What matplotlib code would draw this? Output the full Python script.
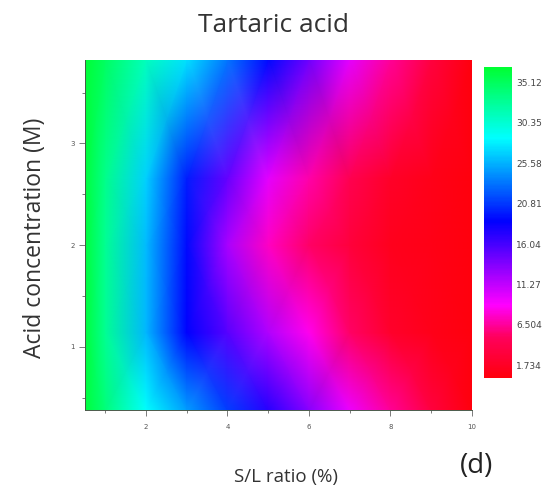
import numpy as np
import matplotlib
matplotlib.use("Agg")
import matplotlib.pyplot as plt
from matplotlib.colors import LinearSegmentedColormap

# S/L ratio (%) grid and acid concentration (M) grid
sl_ratio = [0.5, 1, 2, 3, 4, 5, 6, 7, 8, 9, 10]
acid_conc = [0.38, 1.14, 2.0, 2.66, 3.82]

# response values, one row per acid concentration
row_038 = [36.5, 33.9, 28.6, 24.8, 21.0, 17.2, 13.4, 9.6, 6.4, 3.3, 0.3]
row_114 = [36.5, 32.9, 25.8, 18.7, 15.3, 11.9, 8.5, 5.3, 2.1, 1.0, 0.3]
row_200 = [36.5, 32.9, 25.9, 19.0, 12.2, 7.5, 5.3, 3.1, 1.3, 0.8, 0.3]
row_266 = [36.5, 33.3, 26.8, 19.8, 14.7, 9.9, 6.8, 4.4, 2.0, 1.0, 0.3]
row_382 = [36.8, 34.9, 31.2, 27.4, 23.2, 19.1, 14.5, 9.9, 6.4, 3.3, 0.3]

cbar_ticks = [1.734, 6.504, 11.27, 16.04, 20.81, 25.58, 30.35, 35.12]
cbar_labels = ["1.734", "6.504", "11.27", "16.04", "20.81", "25.58", "30.35", "35.12"]

Z = np.array([row_038, row_114, row_200, row_266, row_382])
X, Y = np.meshgrid(sl_ratio, acid_conc)

vmin, vmax = 0.2, 36.9
def pos(v):
    return (v - vmin) / (vmax - vmin)

cmap = LinearSegmentedColormap.from_list("origin_rgb", [
    (0.0, (1.0, 0.0, 0.05)),
    (pos(5.0), (1.0, 0.0, 0.36)),
    (pos(8.8), (1.0, 0.0, 1.0)),
    (pos(18.7), (0.0, 0.0, 1.0)),
    (pos(28.6), (0.0, 1.0, 1.0)),
    (1.0, (0.0, 1.0, 0.2)),
])

fig = plt.figure(figsize=(5.59, 4.88), dpi=100)
ax = fig.add_axes([0.152, 0.160, 0.692, 0.717])
mesh = ax.pcolormesh(X, Y, Z, shading="gouraud", cmap=cmap, vmin=vmin, vmax=vmax)
ax.set_xlim(0.5, 10)
ax.set_ylim(0.38, 3.82)

ax.set_xticks([2, 4, 6, 8, 10])
ax.set_xticks([1, 3, 5, 7, 9], minor=True)
ax.set_yticks([1, 2, 3])
ax.set_yticks([0.5, 1.5, 2.5, 3.5], minor=True)
ax.tick_params(which="both", direction="out", colors="#666666", labelsize=5,
               width=0.6, labelcolor="#555555")
ax.tick_params(which="major", length=4)
ax.tick_params(which="minor", length=2.5)
ax.tick_params(axis="x", pad=6)
for side in ["top", "right"]:
    ax.spines[side].set_visible(False)
for side in ["left", "bottom"]:
    ax.spines[side].set_color("#4a5a4a")
    ax.spines[side].set_linewidth(0.7)

fig.text(0.49, 0.934, "Tartaric acid", ha="center", va="baseline",
         fontsize=19, color="#333333", family="Open Sans")
fig.text(0.063, 0.512, "Acid concentration (M)", ha="center", va="center",
         rotation=90, fontsize=16.5, color="#333333", family="Open Sans")
fig.text(0.512, 0.004, "S/L ratio (%)", ha="center", va="bottom",
         fontsize=13.5, color="#333333", family="Open Sans")
fig.text(0.853, 0.045, "(d)", ha="center", va="center",
         fontsize=20, color="#222222", family="Open Sans")

cax = fig.add_axes([0.866, 0.225, 0.050, 0.637])
cb = fig.colorbar(mesh, cax=cax, ticks=cbar_ticks)
cb.ax.set_yticklabels(cbar_labels)
cb.outline.set_visible(False)
cb.ax.tick_params(length=0, labelsize=6.5, labelcolor="#444444", pad=3)

fig.savefig("out.png", dpi=100)
